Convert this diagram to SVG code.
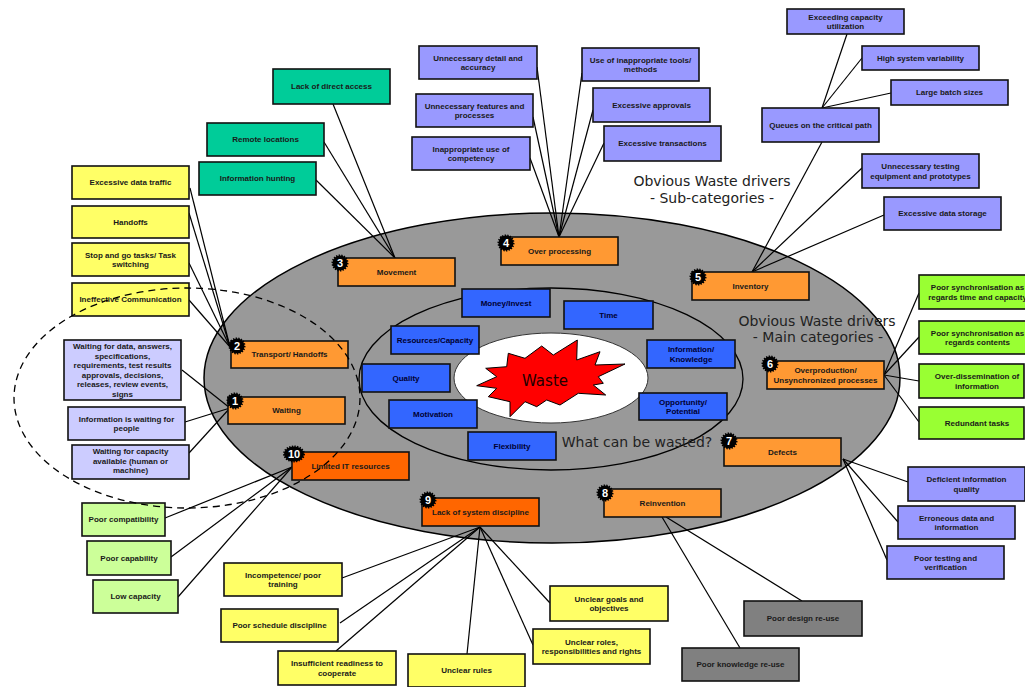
<svg xmlns="http://www.w3.org/2000/svg" width="1025" height="687" viewBox="0 0 1025 687">
<style>
.bx{stroke:#111;stroke-width:1.6}
.t{font-family:"Liberation Sans",Arial,sans-serif;font-size:8px;font-weight:bold;text-anchor:middle;fill:#1a1a1a}
.bt{fill:#000033}
.teal{fill:#00CC99}.yel{fill:#FFFF66}.lav{fill:#CCCCFF}.lg{fill:#CCFF99}.pur{fill:#9999FF}.grn{fill:#99FF33}.gry{fill:#808080}.or{fill:#FF9933}.dor{fill:#FF6600}.blu{fill:#3366FF}
#connectors line{stroke:#000;stroke-width:1.2}
.bd{fill:#000;stroke:#000;stroke-width:2;stroke-dasharray:1.3 1.3}
.bn{font-family:"Liberation Sans",Arial,sans-serif;font-weight:bold;font-size:11px;fill:#fff;text-anchor:middle}
.big{font-family:"DejaVu Sans",Verdana,sans-serif;font-size:14px;fill:#222;text-anchor:middle}
</style>
<rect width="1025" height="687" fill="#fff"/>
<ellipse id="outer" cx="552" cy="378" rx="348" ry="165" fill="#999999" stroke="#000" stroke-width="1.5"/>
<ellipse id="inner" cx="551" cy="379" rx="192" ry="91" fill="#999999" stroke="#000" stroke-width="1.3"/>
<ellipse id="core" cx="551" cy="378" rx="97" ry="45" fill="#fff" stroke="#333" stroke-width="1"/>
<polygon id="star" points="476.7,385.7 496.7,376.7 485.7,368.3 506.7,366.7 508.3,353.3 525,358.3 541.7,346 553.3,355 577.3,340 576.7,360 600,351.7 595,365 625,364 598.3,376.7 603.3,383.3 593.3,385 605.7,395 578.3,393.3 560,405 546.7,400 536.7,406.7 525,401.7 510,416.7 510,401.7 488.3,396.7 496.7,388.3" fill="#FF0000" stroke="#000" stroke-width="1"/>
<text x="545" y="386" style="font-family:'DejaVu Sans',Verdana,sans-serif;font-size:15px;fill:#220000;text-anchor:middle">Waste</text>
<text class="big" x="712" y="186">Obvious Waste drivers</text>
<text class="big" x="712" y="203">- Sub-categories -</text>
<text class="big" x="817" y="326">Obvious Waste drivers</text>
<text class="big" x="818" y="342">- Main categories -</text>
<text class="big" x="637" y="447">What can be wasted?</text>

<g id="connectors">
<line x1="333" y1="104" x2="395" y2="258"/>
<line x1="324" y1="142" x2="395" y2="258"/>
<line x1="316" y1="180" x2="395" y2="258"/>
<line x1="190" y1="188" x2="230" y2="347"/>
<line x1="189" y1="213" x2="230" y2="347"/>
<line x1="189" y1="263" x2="230" y2="347"/>
<line x1="189" y1="300" x2="230" y2="347"/>
<line x1="182" y1="370" x2="230" y2="408"/>
<line x1="185" y1="422" x2="230" y2="408"/>
<line x1="189" y1="453" x2="230" y2="408"/>
<line x1="165" y1="518" x2="292" y2="467"/>
<line x1="171" y1="557" x2="292" y2="467"/>
<line x1="178" y1="597" x2="292" y2="467"/>
<line x1="537" y1="67" x2="559" y2="237"/>
<line x1="533" y1="117" x2="559" y2="237"/>
<line x1="530" y1="158" x2="559" y2="237"/>
<line x1="582" y1="73" x2="559" y2="237"/>
<line x1="593" y1="110" x2="559" y2="237"/>
<line x1="604" y1="143" x2="559" y2="237"/>
<line x1="847" y1="34" x2="822" y2="108"/>
<line x1="862" y1="58" x2="822" y2="108"/>
<line x1="891" y1="93" x2="822" y2="108"/>
<line x1="822" y1="142" x2="752" y2="272"/>
<line x1="862" y1="168" x2="752" y2="272"/>
<line x1="884" y1="215" x2="752" y2="272"/>
<line x1="884" y1="375" x2="919" y2="293"/>
<line x1="884" y1="375" x2="919" y2="337"/>
<line x1="884" y1="375" x2="919" y2="381"/>
<line x1="884" y1="375" x2="919" y2="422"/>
<line x1="843" y1="459" x2="908" y2="482"/>
<line x1="843" y1="459" x2="898" y2="522"/>
<line x1="843" y1="459" x2="887" y2="560"/>
<line x1="666" y1="517" x2="802" y2="601"/>
<line x1="662" y1="517" x2="740" y2="648"/>
<line x1="480" y1="527" x2="342" y2="578"/>
<line x1="480" y1="527" x2="340" y2="623"/>
<line x1="480" y1="527" x2="336" y2="651"/>
<line x1="480" y1="527" x2="467" y2="654"/>
<line x1="480" y1="527" x2="533" y2="645"/>
<line x1="480" y1="527" x2="550" y2="603"/>
</g>

<!-- inner blue boxes -->
<g id="money"><rect class="bx blu" x="462" y="289" width="88" height="28"/><text class="t bt" x="506" y="305.8">Money/Invest</text></g>
<g id="time"><rect class="bx blu" x="564" y="301" width="89" height="28"/><text class="t bt" x="608.5" y="317.8">Time</text></g>
<g id="resources"><rect class="bx blu" x="391" y="326" width="88" height="28"/><text class="t bt" x="435" y="342.8">Resources/Capacity</text></g>
<g id="quality"><rect class="bx blu" x="362" y="364" width="88" height="28"/><text class="t bt" x="406" y="380.8">Quality</text></g>
<g id="motivation"><rect class="bx blu" x="389" y="400" width="88" height="28"/><text class="t bt" x="433" y="416.8">Motivation</text></g>
<g id="flexibility"><rect class="bx blu" x="468" y="432" width="88" height="28"/><text class="t bt" x="512" y="448.8">Flexibility</text></g>
<g id="information"><rect class="bx blu" x="647" y="340" width="88" height="28"/><text class="t bt" x="691" y="352">Information/</text><text class="t bt" x="691" y="361.5">Knowledge</text></g>
<g id="opportunity"><rect class="bx blu" x="639" y="393" width="88" height="27"/><text class="t bt" x="683" y="404.5">Opportunity/</text><text class="t bt" x="683" y="414">Potential</text></g>

<!-- main categories -->
<g id="waiting"><rect class="bx or" x="228" y="397" width="117" height="27"/><text class="t" x="286.5" y="413.3">Waiting</text></g>
<g id="transport"><rect class="bx or" x="231" y="341" width="117" height="27"/><text class="t" x="289.5" y="357.3">Transport/ Handoffs</text></g>
<g id="movement"><rect class="bx or" x="338" y="258" width="117" height="28"/><text class="t" x="396.5" y="274.8">Movement</text></g>
<g id="overprocessing"><rect class="bx or" x="501" y="237" width="117" height="28"/><text class="t" x="559.5" y="253.8">Over processing</text></g>
<g id="inventory"><rect class="bx or" x="692" y="272" width="117" height="28"/><text class="t" x="750.5" y="288.8">Inventory</text></g>
<g id="overproduction"><rect class="bx or" x="767" y="361" width="117" height="28"/><text class="t" x="825.5" y="372.5">Overproduction/</text><text class="t" x="825.5" y="382.5">Unsynchronized processes</text></g>
<g id="defects"><rect class="bx or" x="724" y="438" width="117" height="28"/><text class="t" x="782.5" y="454.8">Defects</text></g>
<g id="reinvention"><rect class="bx or" x="604" y="489" width="117" height="28"/><text class="t" x="662.5" y="505.8">Reinvention</text></g>
<g id="discipline"><rect class="bx dor" x="422" y="498" width="117" height="28"/><text class="t" x="480.5" y="514.8">Lack of system discipline</text></g>
<g id="limitedit"><rect class="bx dor" x="292" y="452" width="117" height="28"/><text class="t" x="350.5" y="468.8">Limited IT resources</text></g>

<!-- badges -->
<g id="badges">
<circle class="bd" cx="235" cy="401" r="7.5"/><text class="bn" x="235" y="405">1</text>
<circle class="bd" cx="237" cy="346" r="7.5"/><text class="bn" x="237" y="350">2</text>
<circle class="bd" cx="340" cy="263" r="7.5"/><text class="bn" x="340" y="267">3</text>
<circle class="bd" cx="506" cy="243" r="7.5"/><text class="bn" x="506" y="247">4</text>
<circle class="bd" cx="698" cy="277" r="7.5"/><text class="bn" x="698" y="281">5</text>
<circle class="bd" cx="770" cy="364" r="7.5"/><text class="bn" x="770" y="368">6</text>
<circle class="bd" cx="729" cy="441" r="7.5"/><text class="bn" x="729" y="445">7</text>
<circle class="bd" cx="605" cy="493" r="7.5"/><text class="bn" x="605" y="497">8</text>
<circle class="bd" cx="428" cy="500" r="7.5"/><text class="bn" x="428" y="504">9</text>
<ellipse class="bd" cx="294" cy="454" rx="10" ry="7.5"/><text class="bn" x="294" y="458">10</text>
</g>

<!-- Movement sub -->
<g id="lackaccess"><rect class="bx teal" x="273" y="69" width="117" height="35"/><text class="t" x="331.5" y="89.3">Lack of direct access</text></g>
<g id="remote"><rect class="bx teal" x="207" y="123" width="117" height="33"/><text class="t" x="265.5" y="142.3">Remote locations</text></g>
<g id="hunting"><rect class="bx teal" x="199" y="162" width="117" height="33"/><text class="t" x="257.5" y="181.3">Information hunting</text></g>

<!-- Transport sub -->
<g id="datatraffic"><rect class="bx yel" x="72" y="166" width="117" height="33"/><text class="t" x="130.5" y="185.3">Excessive data traffic</text></g>
<g id="handoffs"><rect class="bx yel" x="72" y="206" width="117" height="32"/><text class="t" x="130.5" y="224.8">Handoffs</text></g>
<g id="stopgo"><rect class="bx yel" x="72" y="243" width="117" height="33"/><text class="t" x="130.5" y="257.5">Stop and go tasks/ Task</text><text class="t" x="130.5" y="267">switching</text></g>
<g id="ineffective"><rect class="bx yel" x="72" y="283" width="117" height="33"/><text class="t" x="130.5" y="302.3">Ineffective Communication</text></g>

<!-- Waiting sub -->
<g id="waitdata"><rect class="bx lav" x="64" y="340" width="117" height="60"/>
<text class="t" x="122.5" y="349">Waiting for data, answers,</text>
<text class="t" x="122.5" y="358.5">specifications,</text>
<text class="t" x="122.5" y="368">requirements, test results</text>
<text class="t" x="122.5" y="377.5">approvals, decisions,</text>
<text class="t" x="122.5" y="387">releases, review events,</text>
<text class="t" x="122.5" y="396.5">signs</text></g>
<g id="waitpeople"><rect class="bx lav" x="68" y="407" width="117" height="33"/><text class="t" x="126.5" y="421.6">Information is waiting for</text><text class="t" x="126.5" y="431.1">people</text></g>
<g id="waitcapacity"><rect class="bx lav" x="72" y="445" width="117" height="34"/><text class="t" x="130.5" y="454">Waiting for capacity</text><text class="t" x="130.5" y="463.5">available (human or</text><text class="t" x="130.5" y="473">machine)</text></g>

<!-- Limited IT sub -->
<g id="compat"><rect class="bx lg" x="82" y="503" width="83" height="33"/><text class="t" x="123.5" y="522.3">Poor compatibility</text></g>
<g id="capab"><rect class="bx lg" x="87" y="541" width="84" height="34"/><text class="t" x="129" y="560.8">Poor capability</text></g>
<g id="lowcap"><rect class="bx lg" x="93" y="580" width="85" height="33"/><text class="t" x="135.5" y="599.3">Low capacity</text></g>

<!-- Over processing sub -->
<g id="detail"><rect class="bx pur" x="419" y="46" width="118" height="33"/><text class="t" x="478" y="60.5">Unnecessary detail and</text><text class="t" x="478" y="70">accuracy</text></g>
<g id="features"><rect class="bx pur" x="416" y="94" width="117" height="33"/><text class="t" x="474.5" y="108.5">Unnecessary features and</text><text class="t" x="474.5" y="118">processes</text></g>
<g id="competency"><rect class="bx pur" x="412" y="137" width="118" height="33"/><text class="t" x="471" y="151.5">Inappropriate use of</text><text class="t" x="471" y="161">competency</text></g>
<g id="tools"><rect class="bx pur" x="582" y="48" width="117" height="33"/><text class="t" x="640.5" y="62.5">Use of inappropriate tools/</text><text class="t" x="640.5" y="72">methods</text></g>
<g id="approvals"><rect class="bx pur" x="593" y="88" width="117" height="34"/><text class="t" x="651.5" y="107.8">Excessive approvals</text></g>
<g id="transactions"><rect class="bx pur" x="604" y="126" width="117" height="35"/><text class="t" x="662.5" y="146.3">Excessive transactions</text></g>

<!-- Inventory sub -->
<g id="exceeding"><rect class="bx pur" x="787" y="9" width="117" height="25"/><text class="t" x="845.5" y="19.5">Exceeding capacity</text><text class="t" x="845.5" y="29">utilization</text></g>
<g id="variability"><rect class="bx pur" x="862" y="46" width="117" height="24"/><text class="t" x="920.5" y="60.8">High system variability</text></g>
<g id="batch"><rect class="bx pur" x="891" y="80" width="117" height="25"/><text class="t" x="949.5" y="95.3">Large batch sizes</text></g>
<g id="queues"><rect class="bx pur" x="762" y="108" width="117" height="34"/><text class="t" x="820.5" y="127.8">Queues on the critical path</text></g>
<g id="testing"><rect class="bx pur" x="862" y="154" width="117" height="34"/><text class="t" x="920.5" y="169">Unnecessary testing</text><text class="t" x="920.5" y="178.5">equipment and prototypes</text></g>
<g id="storage"><rect class="bx pur" x="884" y="197" width="117" height="33"/><text class="t" x="942.5" y="216.3">Excessive data storage</text></g>

<!-- Overproduction sub -->
<g id="synctime"><rect class="bx grn" x="919" y="275" width="117" height="34"/><text class="t" x="977.5" y="290">Poor synchronisation as</text><text class="t" x="977.5" y="299.5">regards time and capacity</text></g>
<g id="synccontents"><rect class="bx grn" x="919" y="321" width="117" height="33"/><text class="t" x="977.5" y="335.5">Poor synchronisation as</text><text class="t" x="977.5" y="345">regards contents</text></g>
<g id="dissemination"><rect class="bx grn" x="919" y="364" width="105" height="34"/><text class="t" x="977" y="379">Over-dissemination of</text><text class="t" x="977" y="388.5">information</text></g>
<g id="redundant"><rect class="bx grn" x="919" y="407" width="105" height="32"/><text class="t" x="977" y="425.8">Redundant tasks</text></g>

<!-- Defects sub -->
<g id="deficient"><rect class="bx pur" x="908" y="467" width="117" height="34"/><text class="t" x="966.5" y="482">Deficient information</text><text class="t" x="966.5" y="491.5">quality</text></g>
<g id="erroneous"><rect class="bx pur" x="898" y="506" width="117" height="33"/><text class="t" x="956.5" y="520.5">Erroneous data and</text><text class="t" x="956.5" y="530">information</text></g>
<g id="verification"><rect class="bx pur" x="887" y="546" width="117" height="33"/><text class="t" x="945.5" y="560.5">Poor testing and</text><text class="t" x="945.5" y="570">verification</text></g>

<!-- Reinvention sub -->
<g id="designreuse"><rect class="bx gry" x="744" y="601" width="118" height="35"/><text class="t" x="803" y="621.3">Poor design re-use</text></g>
<g id="knowledgereuse"><rect class="bx gry" x="682" y="648" width="117" height="33"/><text class="t" x="740.5" y="667.3">Poor knowledge re-use</text></g>

<!-- Discipline sub -->
<g id="incompetence"><rect class="bx yel" x="224" y="563" width="118" height="33"/><text class="t" x="283" y="577.5">Incompetence/ poor</text><text class="t" x="283" y="587">training</text></g>
<g id="schedule"><rect class="bx yel" x="221" y="609" width="117" height="33"/><text class="t" x="279.5" y="628.3">Poor schedule discipline</text></g>
<g id="readiness"><rect class="bx yel" x="278" y="651" width="118" height="34"/><text class="t" x="337" y="666">Insufficient readiness to</text><text class="t" x="337" y="675.5">cooperate</text></g>
<g id="rules"><rect class="bx yel" x="408" y="654" width="117" height="33"/><text class="t" x="466.5" y="673.3">Unclear rules</text></g>
<g id="roles"><rect class="bx yel" x="533" y="629" width="117" height="35"/><text class="t" x="591.5" y="644.5">Unclear roles,</text><text class="t" x="591.5" y="654">responsibilities and rights</text></g>
<g id="goals"><rect class="bx yel" x="550" y="586" width="118" height="35"/><text class="t" x="609" y="601.5">Unclear goals and</text><text class="t" x="609" y="611">objectives</text></g>

<ellipse id="focus" cx="187" cy="398" rx="173" ry="110" fill="none" stroke="#000" stroke-width="1.3" stroke-dasharray="7 5"/>
</svg>
